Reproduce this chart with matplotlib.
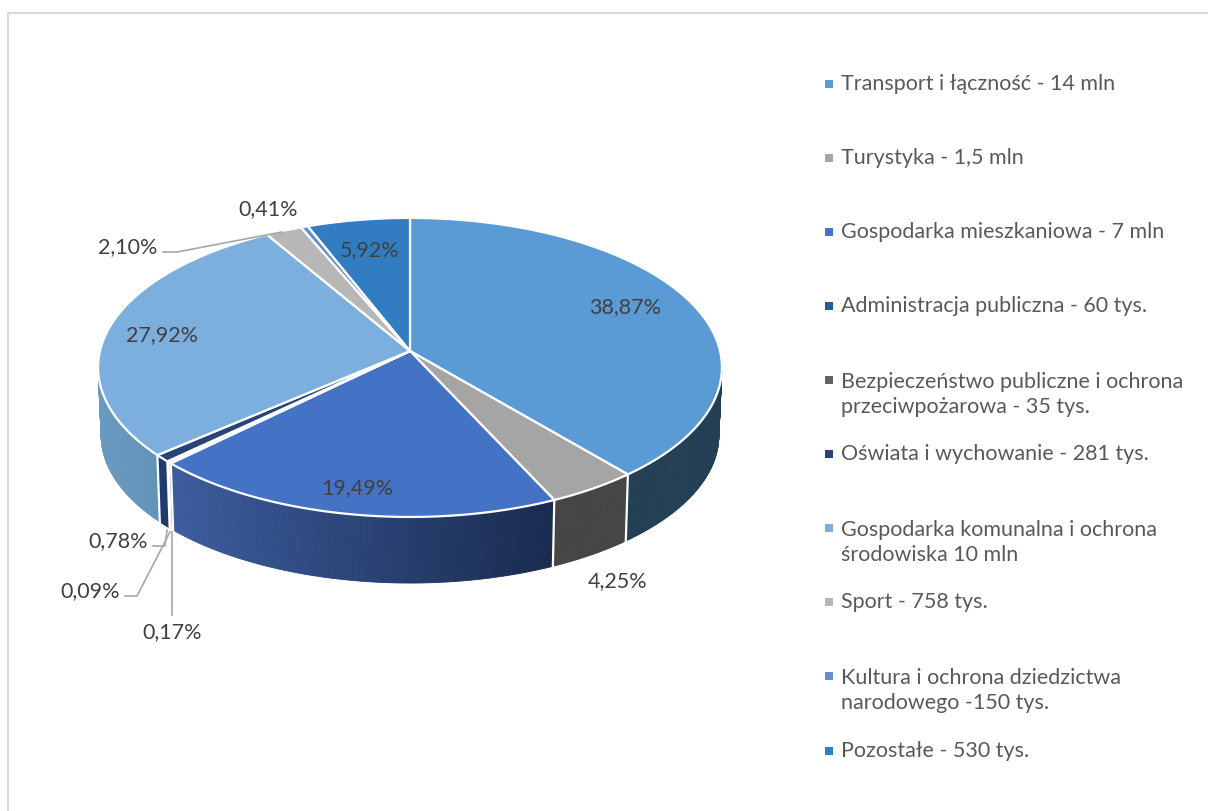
import numpy as np
import matplotlib
matplotlib.use("Agg")
import matplotlib.pyplot as plt
from matplotlib.colors import to_rgb

plt.rcParams['font.family'] = ['Lato', 'DejaVu Sans']

# Chart data
values = [38.87, 4.25, 19.49, 0.17, 0.09, 0.78, 27.92, 2.10, 0.41, 5.92]
value_labels = ["38,87%", "4,25%", "19,49%", "0,17%", "0,09%", "0,78%", "27,92%", "2,10%", "0,41%", "5,92%"]
legend_labels = [
    "Transport i łączność - 14 mln",
    "Turystyka - 1,5 mln",
    "Gospodarka mieszkaniowa - 7 mln",
    "Administracja publiczna - 60 tys.",
    "Bezpieczeństwo publiczne i ochrona\nprzeciwpożarowa - 35 tys.",
    "Oświata i wychowanie - 281 tys.",
    "Gospodarka komunalna i ochrona\nśrodowiska 10 mln",
    "Sport - 758 tys.",
    "Kultura i ochrona dziedzictwa\nnarodowego -150 tys.",
    "Pozostałe - 530 tys.",
]
colors = ["#5B9BD5", "#A5A5A5", "#4472C4", "#255E91", "#636363", "#264478", "#7CAFDD", "#B7B7B7", "#698ED0", "#327DC2"]
# wall colours: left end and right end of the gradient on screen
wall_left = ["#233F55", "#454545", "#3C5C9E", "#255E91", "#636363", "#1F3A6D", "#6B9AC0", "#6E6E6E", "#3F5A8C", "#1E4B75"]
wall_right = ["#233F55", "#454545", "#182A4E", "#255E91", "#636363", "#1F3A6D", "#6292B8", "#6E6E6E", "#3F5A8C", "#1E4B75"]

# Positions of the labels, in pixels
label_xy = [(625, 307), (618, 581), (357, 488), (172, 632), (90, 591), (118, 541), (162, 335), (128, 247), (268, 209), (370, 250)]
legend_y = [84, 158, 232, 306, 394.5, 454, 542.5, 602, 690.5, 751]
leaders = [
    ([163, 177, 282], [252, 252, 232]),
    ([153, 165, 167], [546, 546, 530]),
    ([125, 137, 170], [596, 596, 532]),
    ([172, 172], [615, 532]),
]

# Perspective of the disc
cx, cy = 410, 351
k = 0.11
a_top, b_top = 147.7, 310
a_low, b_low = 146.0, 307
depth = 68


def rim(theta, a, b, dy=0.0):
    # theta clockwise from 12 o'clock, disc tilted towards the viewer
    d = 1 + k * np.cos(theta)
    return cx + b * np.sin(theta) / d, cy - a * np.cos(theta) / d + dy


fig = plt.figure(figsize=(12.08, 8.11), dpi=100)
ax = fig.add_axes([0, 0, 1, 1])
ax.set_xlim(0, 1208)
ax.set_ylim(811, 0)
ax.axis("off")

# Frame
ax.plot([8, 8, 1208], [811, 12.5, 12.5], color="#D9D9D9", lw=1.5)

edges = np.concatenate([[0], np.cumsum(values)]) / sum(values) * 2 * np.pi

# Side wall
wall_from, wall_to = np.radians(88), np.radians(272)
for i in range(len(values)):
    t0, t1 = max(edges[i], wall_from), min(edges[i + 1], wall_to)
    if t1 <= t0:
        continue
    n = max(2, int((t1 - t0) / np.radians(0.5)))
    tt = np.linspace(t0, t1, n + 1)
    x_u, y_u = rim(tt, a_top, b_top)
    x_l, y_l = rim(tt, a_low, b_low, depth)
    c_l, c_r = np.array(to_rgb(wall_left[i])), np.array(to_rgb(wall_right[i]))
    x_min, x_max = x_u.min(), x_u.max()
    for j in range(n):
        f = (0.5 * (x_u[j] + x_u[j + 1]) - x_min) / max(x_max - x_min, 1)
        c = c_l + (c_r - c_l) * f
        ax.fill([x_u[j], x_u[j + 1], x_l[j + 1], x_l[j]], [y_u[j], y_u[j + 1], y_l[j + 1], y_l[j]],
                color=c, lw=0.6, zorder=2)

# White seams between the wall pieces
for t in edges:
    if wall_from < t < wall_to:
        xu, yu = rim(t, a_top, b_top)
        xl, yl = rim(t, a_low, b_low, depth)
        ax.plot([xu, xl], [yu, yl], color="white", lw=1.6, zorder=3)

# Top of the disc
for i in range(len(values)):
    tt = np.linspace(edges[i], edges[i + 1], max(3, int((edges[i + 1] - edges[i]) / np.radians(0.5))))
    x, y = rim(tt, a_top, b_top)
    ax.fill(np.r_[cx, x], np.r_[cy, y], facecolor=colors[i], edgecolor="white", lw=1.6, joinstyle="round", zorder=4)

# Leader lines
for lx, ly in leaders:
    ax.plot(lx, ly, color="#A6A6A6", lw=1.2, zorder=5)

# Data labels
for (x, y), s in zip(label_xy, value_labels):
    ax.text(x, y, s, ha="center", va="center", fontsize=15.5, color="#404040", zorder=6)

# Legend
for y, s, c in zip(legend_y, legend_labels, colors):
    first_y = y - 14.5 if "\n" in s else y
    ax.scatter([828.5], [first_y - 0.5], marker="s", s=30, color=c, linewidths=0, zorder=6)
    ax.text(841, y, s, ha="left", va="center", fontsize=15.5, color="#595959", linespacing=1.32, zorder=6)

fig.savefig("out.png", dpi=100)
